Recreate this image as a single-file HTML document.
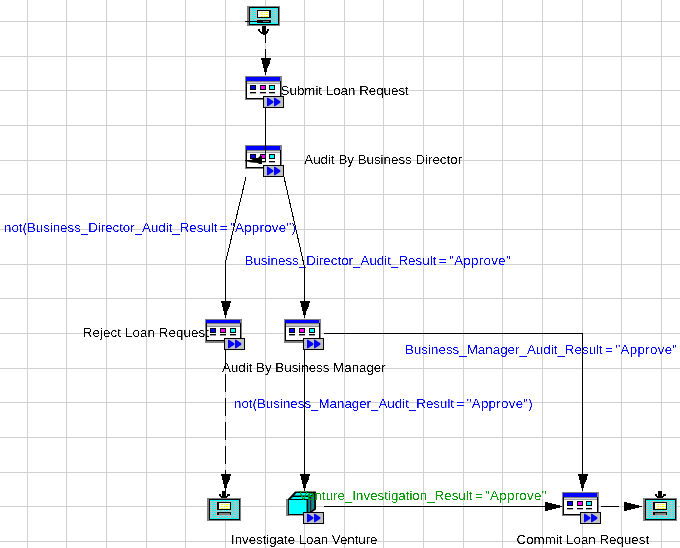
<!DOCTYPE html>
<html><head><meta charset="utf-8"><title>Workflow</title>
<style>
html,body{margin:0;padding:0;background:#fff;overflow:hidden}
svg{display:block;will-change:transform;opacity:0.999}
text{font-family:"Liberation Sans",sans-serif;font-size:13.33px}
</style></head><body>
<svg width="680" height="548" viewBox="0 0 680 548" shape-rendering="crispEdges">
<defs>
<pattern id="dz" width="12" height="2" patternUnits="userSpaceOnUse"><rect width="12" height="2" fill="#c0c0c0"/><rect x="0" y="0" width="1" height="1" fill="#00ffff"/><rect x="2" y="0" width="1" height="1" fill="#00ffff"/><rect x="3" y="0" width="1" height="1" fill="#00ffff"/><rect x="5" y="0" width="1" height="1" fill="#00ffff"/><rect x="7" y="0" width="1" height="1" fill="#00ffff"/><rect x="8" y="0" width="1" height="1" fill="#00ffff"/><rect x="10" y="0" width="1" height="1" fill="#00ffff"/><rect x="1" y="1" width="1" height="1" fill="#00ffff"/><rect x="6" y="1" width="1" height="1" fill="#00ffff"/></pattern>
<pattern id="dy" width="12" height="2" patternUnits="userSpaceOnUse"><rect width="12" height="2" fill="#ffffff"/><rect x="0" y="0" width="1" height="1" fill="#ffff00"/><rect x="2" y="0" width="1" height="1" fill="#ffff00"/><rect x="3" y="0" width="1" height="1" fill="#ffff00"/><rect x="5" y="0" width="1" height="1" fill="#ffff00"/><rect x="7" y="0" width="1" height="1" fill="#ffff00"/><rect x="8" y="0" width="1" height="1" fill="#ffff00"/><rect x="10" y="0" width="1" height="1" fill="#ffff00"/></pattern>
<filter id="thr" x="0" y="0" width="100%" height="100%" color-interpolation-filters="sRGB"><feComponentTransfer><feFuncA type="linear" slope="4" intercept="-1.6"/></feComponentTransfer></filter>
<g id="sub">
 <rect x="0" y="0" width="21" height="12" fill="#000"/>
 <rect x="1" y="1" width="19" height="10" fill="#c0c0c0"/>
 <polygon points="4,1.8 5,1.8 10.3,5.3 10.3,6.7 5,10.2 4,10.2" fill="#0000ff" shape-rendering="auto"/>
 <polygon points="11,1.8 12,1.8 17.3,5.3 17.3,6.7 12,10.2 11,10.2" fill="#0000ff" shape-rendering="auto"/>
</g>
<g id="win">
 <rect x="0" y="0" width="37" height="24" fill="#808080"/>
 <rect x="1" y="5" width="35" height="18" fill="#000"/>
 <rect x="2" y="8" width="33" height="14" fill="#fff"/>
 <rect x="1" y="1" width="34" height="4" fill="#0000ff"/>
 <rect x="2" y="5" width="33" height="1" fill="#808080"/>
 <rect x="2" y="6" width="33" height="1" fill="#d8d8d8"/>
 <rect x="2" y="7" width="33" height="1" fill="#a0a0a0"/>
 <rect x="5" y="9" width="6" height="5" fill="#000"/><rect x="6" y="10" width="4" height="3" fill="#0000ff"/>
 <rect x="15" y="9" width="6" height="5" fill="#000"/><rect x="16" y="10" width="4" height="3" fill="#ff00ff"/>
 <rect x="24" y="9" width="6" height="5" fill="#000"/><rect x="25" y="10" width="4" height="3" fill="#00ffff"/>
 <rect x="5" y="16" width="6" height="1" fill="#000"/><rect x="5" y="17" width="6" height="1" fill="#aaa"/>
 <rect x="15" y="16" width="6" height="1" fill="#000"/><rect x="15" y="17" width="6" height="1" fill="#aaa"/>
 <rect x="24" y="16" width="6" height="1" fill="#000"/><rect x="24" y="17" width="6" height="1" fill="#aaa"/>
</g>
<g id="win2">
 <rect x="0" y="0" width="37" height="24" fill="#808080"/>
 <rect x="1" y="4" width="35" height="18" fill="#000"/>
 <rect x="2" y="8" width="33" height="13" fill="#fff"/>
 <rect x="1" y="1" width="34" height="3" fill="#0000ff"/>
 <rect x="2" y="4" width="33" height="1" fill="#808080"/>
 <rect x="2" y="5" width="33" height="2" fill="#c8c8c8"/>
 <rect x="2" y="7" width="33" height="1" fill="#909090"/>
 <rect x="5" y="9" width="6" height="5" fill="#000"/><rect x="6" y="10" width="4" height="3" fill="#0000ff"/>
 <rect x="15" y="9" width="6" height="5" fill="#000"/><rect x="16" y="10" width="4" height="3" fill="#ff00ff"/>
 <rect x="25" y="9" width="6" height="5" fill="#000"/><rect x="26" y="10" width="4" height="3" fill="#00ffff"/>
 <rect x="5" y="15" width="6" height="1" fill="#000"/><rect x="5" y="16" width="6" height="1" fill="#999"/>
 <rect x="15" y="15" width="6" height="1" fill="#000"/><rect x="15" y="16" width="6" height="1" fill="#999"/>
 <rect x="25" y="15" width="6" height="1" fill="#000"/><rect x="25" y="16" width="6" height="1" fill="#999"/>
</g>
<g id="term">
 <rect x="0" y="0" width="33" height="20" fill="#808080"/>
 <rect x="2" y="1" width="30" height="18" fill="#000"/>
 <rect x="3" y="2" width="28" height="16" fill="url(#dz)"/>
 <rect x="3" y="2" width="28" height="1" fill="#00ffff"/><rect x="3" y="17" width="28" height="1" fill="#00ffff"/>
 <rect x="10" y="4" width="14" height="8" fill="#000"/>
 <rect x="11" y="5" width="11" height="6" fill="#fff"/>
 <rect x="13" y="5" width="9" height="6" fill="url(#dy)"/>
 <rect x="10" y="14" width="14" height="3" fill="#000"/>
 <rect x="16" y="15" width="6" height="1" fill="#808080"/>
</g>
<g id="term2">
 <rect x="0" y="0" width="34" height="23" fill="#808080"/>
 <rect x="2" y="1" width="31" height="21" fill="#000"/>
 <rect x="3" y="2" width="29" height="19" fill="url(#dz)"/>
 <rect x="3" y="2" width="29" height="1" fill="#00ffff"/><rect x="3" y="20" width="29" height="1" fill="#00ffff"/>
 <rect x="10" y="4" width="14" height="8" fill="#000"/>
 <rect x="12" y="5" width="11" height="6" fill="#fff"/>
 <rect x="13" y="6" width="10" height="5" fill="url(#dy)"/>
 <rect x="10" y="14" width="14" height="3" fill="#000"/>
 <rect x="12" y="15" width="11" height="2" fill="#808080"/>
</g>
<g id="cube" shape-rendering="auto">
 <rect x="0" y="8" width="3" height="17" fill="#808080"/>
 <rect x="0" y="23" width="19" height="1.7" fill="#808080"/>
 <polygon points="2,8 9,0.4 30,0.4 30,18.6 22,24 2,24" fill="#000"/>
 <polygon points="10.5,2 27,2 24.8,4.6 8,4.6" fill="#00ffff"/>
 <polygon points="6.8,6 23.6,6 21.8,8 4.8,8" fill="#00ffff"/>
 <rect x="3" y="9" width="17.6" height="14" fill="#00ffff"/>
 <polygon points="22.2,8.6 24,6.8 24,21.4 22.2,23" fill="#008c96"/>
 <polygon points="24.8,6 25.4,5.4 25.4,19.6 24.8,20.2" fill="#b0b0b0"/>
 <polygon points="25.6,5.2 28.2,2.6 28.2,17.6 25.6,19.6" fill="#008c96"/>
</g>
<g id="ad" fill="#000">
 <rect x="-4" y="0" width="10" height="2"/><rect x="-3" y="2" width="8" height="4"/><rect x="-2" y="6" width="6" height="2"/>
 <rect x="-2" y="8" width="5" height="2"/><rect x="-1" y="10" width="3" height="4"/><rect x="0" y="14" width="1" height="3"/>
</g>
<g id="ar" fill="#000">
 <rect x="0" y="-4" width="3" height="9"/><rect x="3" y="-3" width="4" height="7"/><rect x="7" y="-2" width="4" height="5"/>
 <rect x="11" y="-1" width="4" height="3"/><rect x="15" y="0" width="3" height="1"/>
</g>
</defs>
<rect width="680" height="548" fill="#fff"/>
<g fill="#d0d0d0"><rect x="27" y="0" width="1" height="548"/><rect x="66" y="0" width="1" height="548"/><rect x="106" y="0" width="1" height="548"/><rect x="146" y="0" width="1" height="548"/><rect x="185" y="0" width="1" height="548"/><rect x="225" y="0" width="1" height="548"/><rect x="265" y="0" width="1" height="548"/><rect x="304" y="0" width="1" height="548"/><rect x="344" y="0" width="1" height="548"/><rect x="383" y="0" width="1" height="548"/><rect x="423" y="0" width="1" height="548"/><rect x="463" y="0" width="1" height="548"/><rect x="502" y="0" width="1" height="548"/><rect x="542" y="0" width="1" height="548"/><rect x="582" y="0" width="1" height="548"/><rect x="621" y="0" width="1" height="548"/><rect x="661" y="0" width="1" height="548"/><rect x="0" y="21" width="680" height="1"/><rect x="0" y="56" width="680" height="1"/><rect x="0" y="90" width="680" height="1"/><rect x="0" y="125" width="680" height="1"/><rect x="0" y="160" width="680" height="1"/><rect x="0" y="194" width="680" height="1"/><rect x="0" y="229" width="680" height="1"/><rect x="0" y="264" width="680" height="1"/><rect x="0" y="298" width="680" height="1"/><rect x="0" y="333" width="680" height="1"/><rect x="0" y="368" width="680" height="1"/><rect x="0" y="402" width="680" height="1"/><rect x="0" y="437" width="680" height="1"/><rect x="0" y="472" width="680" height="1"/><rect x="0" y="506" width="680" height="1"/><rect x="0" y="541" width="680" height="1"/></g>
<g filter="url(#thr)"><text x="4" y="232" fill="#0000ff" letter-spacing="-0.0213">not(Business_Director_Audit_Result<tspan dx="-1.2"> =</tspan><tspan dx="-1.3"> </tspan><tspan letter-spacing="0.2565">&quot;Approve&quot;</tspan>)</text><text x="244.5" y="265" fill="#0000ff" letter-spacing="0.0238">Business_Director_Audit_Result<tspan dx="-1.2"> =</tspan><tspan dx="-1.3"> </tspan><tspan letter-spacing="0.3016">&quot;Approve&quot;</tspan></text><text x="405" y="354" fill="#0000ff" letter-spacing="0.0244">Business_Manager_Audit_Result<tspan dx="-1.2"> =</tspan><tspan dx="-1.3"> </tspan><tspan letter-spacing="0.3022">&quot;Approve&quot;</tspan></text><text x="234" y="407.5" fill="#0000ff">not(Business_Manager_Audit_Result<tspan dx="-1.2"> =</tspan><tspan dx="-1.3"> </tspan><tspan letter-spacing="0.2778">&quot;Approve&quot;</tspan>)</text></g>
<rect x="262" y="26" width="4" height="8" fill="#000"/><rect x="258" y="29" width="2" height="2" fill="#000"/><rect x="267" y="29" width="2" height="2" fill="#000"/><rect x="259" y="31" width="2" height="1" fill="#000"/><rect x="266" y="31" width="2" height="1" fill="#000"/><rect x="260" y="32" width="8" height="1" fill="#000"/><rect x="261" y="33" width="6" height="1" fill="#000"/><rect x="263" y="34" width="2" height="1" fill="#000"/><rect x="265" y="33" width="1" height="10" fill="#000"/><rect x="265" y="49" width="1" height="9" fill="#000"/><use href="#ad" x="265" y="58"/><use href="#term" x="247" y="6"/><rect x="245" y="21" width="13" height="1" fill="#000"/><use href="#win" x="245" y="76"/><use href="#sub" x="263" y="96"/><use href="#win" x="245" y="145"/><use href="#sub" x="263" y="165"/><rect x="265" y="108" width="1" height="54" fill="#000"/><rect x="262" y="161" width="4" height="1" fill="#000"/><polygon points="245,160 251,160 255,158 258,158 260,156 262,156 262,164 259,164 258,163 250,162 245,161" fill="#000" shape-rendering="auto"/><line x1="246" y1="177" x2="225.5" y2="262.5" stroke="#000" stroke-width="1" shape-rendering="crispEdges"/><rect x="225" y="262" width="1" height="40" fill="#000"/><use href="#ad" x="225" y="301"/><line x1="284" y1="177" x2="304.5" y2="267" stroke="#000" stroke-width="1" shape-rendering="crispEdges"/><rect x="304" y="266" width="1" height="36" fill="#000"/><use href="#ad" x="304" y="301"/><use href="#win2" x="205" y="319"/><use href="#sub" x="224" y="338"/><use href="#win2" x="284" y="319"/><use href="#sub" x="303" y="338"/><rect x="324" y="333" width="259" height="1" fill="#000"/><rect x="582" y="333" width="1" height="142" fill="#000"/><use href="#ad" x="582" y="474"/><rect x="225" y="350" width="1" height="18" fill="#000"/><rect x="225" y="374" width="1" height="18" fill="#000"/><rect x="225" y="398" width="1" height="18" fill="#000"/><rect x="225" y="422" width="1" height="18" fill="#000"/><rect x="225" y="446" width="1" height="18" fill="#000"/><rect x="225" y="470" width="1" height="5" fill="#000"/><use href="#ad" x="225" y="474"/><rect x="222" y="491" width="4" height="8" fill="#000"/><rect x="219" y="494" width="2" height="2" fill="#000"/><rect x="227" y="494" width="3" height="2" fill="#000"/><rect x="220" y="496" width="2" height="1" fill="#000"/><rect x="226" y="496" width="2" height="1" fill="#000"/><rect x="221" y="497" width="6" height="1" fill="#000"/><use href="#term2" x="207" y="498"/><rect x="304" y="350" width="1" height="125" fill="#000"/><use href="#ad" x="304" y="474"/><use href="#cube" x="286" y="491"/><use href="#sub" x="303" y="512"/><rect x="324" y="506" width="222" height="1" fill="#000"/><use href="#ar" x="545" y="506"/><use href="#win" x="562" y="492"/><use href="#sub" x="580" y="512"/><rect x="601" y="506" width="18" height="1" fill="#000"/><use href="#ar" x="624" y="506"/><rect x="658" y="491" width="4" height="8" fill="#000"/><rect x="655" y="494" width="2" height="2" fill="#000"/><rect x="663" y="494" width="3" height="2" fill="#000"/><rect x="656" y="496" width="2" height="1" fill="#000"/><rect x="662" y="496" width="2" height="1" fill="#000"/><rect x="657" y="497" width="6" height="1" fill="#000"/><use href="#term2" x="643" y="498"/>
<g filter="url(#thr)"><text x="82.7" y="336.5" fill="#000" letter-spacing="0.1053">Reject Loan Request</text><text x="280.6" y="94.5" fill="#000">Submit Loan Request</text><text x="304.3" y="163.5" fill="#000">Audit By Business Director</text><text x="222" y="371.5" fill="#000">Audit By Business Manager</text><text x="299" y="500" fill="#009a00">Venture_Investigation_Result<tspan dx="-1.2"> =</tspan><tspan dx="-1.3"> </tspan><tspan letter-spacing="0.2778">&quot;Approve&quot;</tspan></text><text x="231" y="543.5" fill="#000" letter-spacing="-0.0417">Investigate Loan Venture</text><text x="516.5" y="544" fill="#000">Commit Loan Request</text></g>
</svg>
</body></html>
